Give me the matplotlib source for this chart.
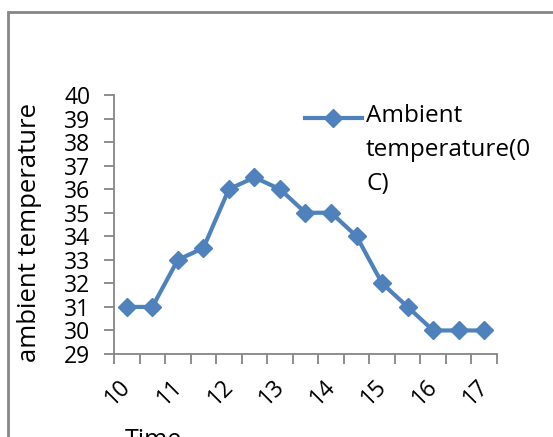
import numpy as np
import matplotlib
matplotlib.use("Agg")
import matplotlib.pyplot as plt
from matplotlib.lines import Line2D
from matplotlib.patches import Rectangle

plt.rcParams["font.family"] = ["Open Sans", "DejaVu Sans"]

# half-hourly readings, 10:00 to 17:00
hour_labels = ["10", "11", "12", "13", "14", "15", "16", "17"]
ambient_temp = [31, 31, 33, 33.5, 36, 36.5, 36, 35, 35, 34, 32, 31, 30, 30, 30]
series_name = "Ambient\ntemperature(0\nC)"

blue = "#4F81BD"
grey = "#868686"

W, H = 553, 437
fig = plt.figure(figsize=(W / 100, H / 100), dpi=100)
ax = fig.add_axes([114 / W, 83 / H, (497 - 114) / W, (354 - 95) / H])

x = np.arange(len(ambient_temp))
ax.plot(x, ambient_temp, color=blue, lw=3, marker="D", markersize=9,
        markeredgecolor=blue, markerfacecolor=blue, clip_on=False, zorder=3)

ax.set_ylim(29, 40)
ax.set_yticks(np.arange(29, 41))
ax.set_xlim(-0.5, len(ambient_temp) - 0.5)

# tick marks sit between categories, labels on every whole hour;
# rotated labels end just left of their category
ax.set_xticks(np.arange(-0.5, len(ambient_temp)))
ax.set_xticklabels([])
ax.set_xticks(x[::2] - 0.3, minor=True)
ax.set_xticklabels(hour_labels, minor=True, rotation=45, ha="right",
                   va="top", rotation_mode="anchor", fontsize=16.5)
ax.tick_params(axis="x", which="major", length=7, width=1.3, color=grey)
ax.tick_params(axis="x", which="minor", length=0, pad=15)
ax.tick_params(axis="y", length=7, width=1.3, color=grey, pad=10, labelsize=16.5)

for side in ["top", "right"]:
    ax.spines[side].set_visible(False)
for side in ["left", "bottom"]:
    ax.spines[side].set_color(grey)
    ax.spines[side].set_linewidth(1.3)

ax.set_ylabel("ambient temperature", fontsize=18.5)
ax.yaxis.set_label_coords(-0.188, 0.471)
fig.text(153 / W, 1 - 440 / H, "Time", fontsize=18, ha="center", va="center")

# legend key drawn by hand so the wrapped label lines up like the original
ly = 1 - 117.5 / H
fig.add_artist(Line2D([305 / W, 362 / W], [ly, ly], color=blue, lw=3))
fig.add_artist(Line2D([333 / W], [ly], color=blue, marker="D", markersize=9))
fig.text(366 / W, 1 - 104 / H, series_name, fontsize=17.5, ha="left",
         va="top", linespacing=1.55, transform=fig.transFigure)

# chart area border
fig.add_artist(Rectangle((7.5 / W, -0.1), 1.2, 1.1 - 11.5 / H, fill=False,
                         edgecolor=grey, lw=2, transform=fig.transFigure))

fig.savefig("out.png", dpi=100)
